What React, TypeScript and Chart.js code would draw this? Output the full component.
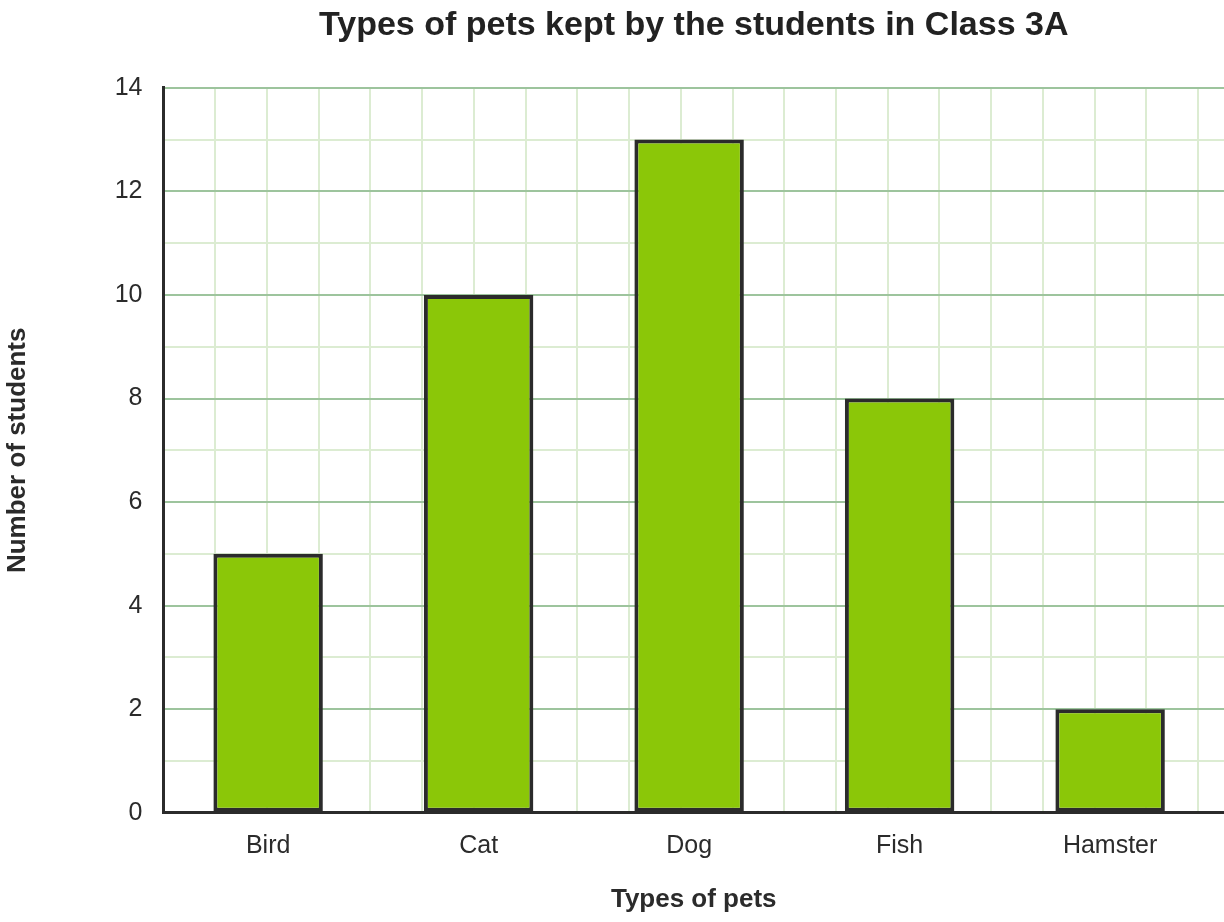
import React, { useEffect, useRef } from "react";
import { Chart, registerables } from "chart.js";

Chart.register(...registerables);

const petTypes = ["Bird", "Cat", "Dog", "Fish", "Hamster"];
const studentCounts = [5, 10, 13, 8, 2];
const yTickLabels = [0, 2, 4, 6, 8, 10, 12, 14];

const chartTitle = "Types of pets kept by the students in Class 3A";
const xAxisTitle = "Types of pets";
const yAxisTitle = "Number of students";

const BAR = "#8bc708";
const INK = "#2b2b2b";
const MAJOR = "#9dc49d";
const MINOR = "#dcecd2";
const FONT = "'Liberation Sans', Arial, sans-serif";

// light vertical grid: 20 cells over the bars area, a bit more to the right edge
const GRID_CELLS = 20;
const GRID_SPAN = 20.5;

export default function App() {
  const canvasRef = useRef<HTMLCanvasElement>(null);

  useEffect(() => {
    const ctx = canvasRef.current?.getContext("2d");
    if (!ctx) return;
    Chart.defaults.font.family = FONT;

    const chart = new Chart(ctx, {
      type: "bar",
      data: {
        datasets: [
          {
            label: yAxisTitle,
            data: studentCounts.map((y, i) => ({ x: i, y })),
            backgroundColor: BAR,
            borderColor: INK,
            borderWidth: 4,
            borderSkipped: false,
            barPercentage: 0.52,
            categoryPercentage: 1,
            xAxisID: "x",
            yAxisID: "y",
          },
        ],
      },
      options: {
        animation: false,
        responsive: true,
        maintainAspectRatio: false,
        layout: { padding: 0 },
        plugins: {
          legend: { display: false },
          tooltip: { enabled: false },
          title: {
            display: true,
            text: chartTitle,
            fullSize: false,
            color: "#222",
            font: { size: 34, weight: "bold" },
            padding: { top: 5, bottom: 42 },
          },
        },
        scales: {
          x: {
            type: "linear",
            position: "bottom",
            offset: false,
            min: -0.497,
            max: 4.541,
            afterBuildTicks: (axis: any) => {
              axis.ticks = petTypes.map((_, i) => ({ value: i }));
              axis.min = -0.497;
              axis.max = 4.541;
            },
            ticks: {
              callback: (v: any) => petTypes[v] ?? "",
              autoSkip: false,
              maxRotation: 0,
              color: "#2b2b2b",
              font: { size: 25 },
              padding: 18,
            },
            grid: { display: false, drawTicks: false, offset: false },
            border: { display: true, color: INK, width: 3 },
            title: {
              display: true,
              text: xAxisTitle,
              color: "#2b2b2b",
              font: { size: 26, weight: "bold" },
              padding: { top: 5, bottom: 7 },
            },
          },
          gridX: {
            type: "linear",
            axis: "x",
            position: "top",
            offset: false,
            min: 0,
            max: GRID_SPAN,
            afterBuildTicks: (axis: any) => {
              axis.ticks = Array.from({ length: GRID_CELLS + 1 }, (_, k) => ({ value: k }));
              axis.min = 0;
              axis.max = GRID_SPAN;
            },
            ticks: { display: false },
            grid: { color: MINOR, lineWidth: 2, drawTicks: false, offset: false, z: -2 },
            border: { display: false },
          },
          y: {
            min: 0,
            max: 14,
            ticks: {
              stepSize: 1,
              autoSkip: false,
              callback: (v: any) => (yTickLabels.includes(v) ? String(v) : ""),
              color: "#2b2b2b",
              font: { size: 25 },
              padding: 21,
            },
            grid: {
              color: (c: any) => (c.tick && c.tick.value % 2 === 0 ? MAJOR : MINOR),
              lineWidth: 2,
              drawTicks: false,
            },
            border: { color: INK, width: 3 },
            title: {
              display: true,
              text: yAxisTitle,
              color: "#2b2b2b",
              font: { size: 26, weight: "bold" },
              padding: { top: 2.5, bottom: 60 },
            },
          },
        },
      },
    });

    return () => chart.destroy();
  }, []);

  return (
    <div
      style={{
        position: "fixed",
        left: 0,
        top: 0,
        width: 1224,
        height: 922,
        background: "#fff",
      }}
    >
      <canvas ref={canvasRef} />
    </div>
  );
}
